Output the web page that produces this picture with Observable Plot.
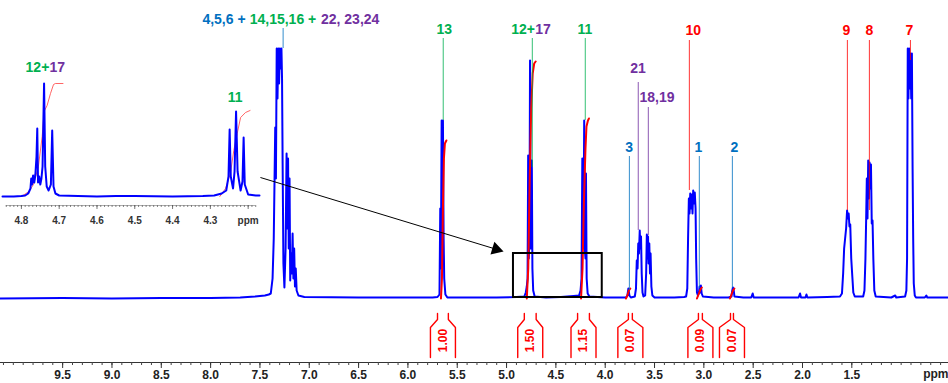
<!DOCTYPE html>
<html><head><meta charset="utf-8">
<script src="https://cdn.jsdelivr.net/npm/d3@7"></script>
<script src="https://cdn.jsdelivr.net/npm/@observablehq/plot@0.6"></script>
<style>
html,body{margin:0;padding:0;background:#fff;}
#wrap{position:relative;width:948px;height:383px;overflow:hidden;background:#fff;}
#main{position:absolute;left:0;top:0;}
#inset{position:absolute;left:0;top:50px;background:#fff;}
svg text{font-family:"Liberation Sans",Arial,sans-serif;}
</style></head>
<body><div id="wrap"><div id="main"></div><div id="inset"></div></div>
<script>
// ---------------- DATA ----------------
// main 1H spectrum: [ppm, intensity]
const spectrum = [
 [10.13,0],[9.5,0.5],[9.0,0],[8.5,0.5],[8.0,0.5],[7.7,1],[7.55,2],[7.45,3],
 [7.41,4],[7.39,5],[7.372,20],[7.36,60],[7.345,171],[7.338,120],[7.33,250],[7.322,200],[7.314,250],[7.306,215],[7.298,250],[7.29,230],[7.282,250],[7.276,220],[7.27,135],[7.262,35],[7.252,11],
 [7.24,50],[7.23,145],[7.222,70],[7.215,140],[7.208,50],[7.2,120],[7.193,18],
 [7.185,45],[7.177,25],[7.169,65],[7.161,20],[7.153,50],[7.145,12],[7.137,30],[7.128,8],[7.11,3],[7.05,1.5],
 [6.5,1],[6.0,1],[5.75,1],
 [5.70,1.5],[5.68,4],[5.672,90],[5.666,30],[5.658,178],[5.652,110],[5.645,178],[5.638,60],[5.632,20],[5.62,4],[5.60,1],
 [5.4,1],[5.1,1],[4.9,1.5],
 [4.82,2],[4.805,6],[4.795,12],[4.787,20],[4.781,143],[4.775,40],[4.768,60],[4.762,238],[4.756,50],[4.75,60],[4.744,138],[4.738,30],[4.73,8],[4.715,2],
 [4.6,1],[4.45,1.5],[4.32,2.5],
 [4.265,3],[4.25,8],[4.24,20],[4.232,140],[4.226,50],[4.22,60],[4.213,178],[4.207,50],[4.2,40],[4.195,125],[4.188,20],[4.178,5],[4.16,2],
 [4.0,1],[3.85,1],[3.79,1],
 [3.775,3],[3.765,10],[3.755,3],[3.74,1],
 [3.70,2],[3.688,10],[3.68,38],[3.672,30],[3.665,55],[3.658,45],[3.65,68],[3.644,50],[3.637,62],[3.63,25],[3.622,6],[3.612,2],
 [3.595,3],[3.585,25],[3.578,64],[3.572,40],[3.566,62],[3.56,35],[3.553,55],[3.546,25],[3.54,45],[3.532,12],[3.522,3],[3.5,1],
 [3.3,1],[3.2,1.5],
 [3.18,2],[3.168,10],[3.16,60],[3.152,100],[3.145,85],[3.138,105],[3.13,90],[3.122,104],[3.115,85],[3.108,108],[3.1,95],[3.092,106],[3.084,90],[3.078,40],[3.07,6],
 [3.06,3],[3.05,6],[3.043,12],[3.037,6],[3.03,13],[3.022,5],[3.01,2],
 [2.9,1],[2.75,1],
 [2.72,2],[2.712,8],[2.705,11],[2.698,9],[2.69,2],
 [2.6,1],[2.52,1],[2.505,5],[2.495,1],[2.3,1],[2.04,1],[2.025,5],[2.015,1],[1.97,1],[1.96,4],[1.95,1],[1.75,1.5],
 [1.62,2],[1.60,5],[1.588,25],[1.578,50],[1.568,60],[1.558,70],[1.548,88],[1.54,80],[1.532,85],[1.524,72],[1.516,74],[1.506,40],[1.495,22],[1.485,6],[1.47,2],
 [1.42,2],
 [1.385,2],[1.372,8],[1.362,40],[1.355,78],[1.348,120],[1.341,80],[1.334,138],[1.327,100],[1.32,136],[1.313,110],[1.306,134],[1.298,75],[1.29,78],[1.282,40],[1.272,8],[1.258,2],
 [1.1,1],[1.06,3],[1.05,1],
 [0.96,2],[0.947,8],[0.94,40],[0.933,250],[0.926,200],[0.919,250],[0.912,210],[0.905,245],[0.898,200],[0.891,245],[0.884,130],[0.878,60],[0.872,15],[0.862,3],[0.85,1],
 [0.76,1],[0.745,3],[0.735,1],[0.52,1]
];

// integral traces drawn over the peaks: [ppm, value]
const integralTraces = [
 [[5.665,0],[5.655,20],[5.645,90],[5.635,140],[5.625,155],[5.61,158]],
 [[4.795,0],[4.78,30],[4.765,120],[4.75,190],[4.735,225],[4.72,235],[4.705,237]],
 [[4.245,0],[4.23,30],[4.215,100],[4.2,150],[4.19,172],[4.175,178],[4.165,180]],
 [[3.79,0],[3.775,3],[3.76,8],[3.745,10]],
 [[3.07,0],[3.05,5],[3.035,9],[3.02,11]],
 [[2.735,0],[2.72,4],[2.705,8],[2.69,10]]
];

// integration regions (ppm limits) and values
const integralLabels = ["1.00","1.50","1.15","0.07","0.09","0.07"];
const integralFrom   = [5.70, 4.82, 4.28, 3.765, 3.055, 2.73];
const integralTo     = [5.59, 4.70, 4.16, 3.725, 3.015, 2.70];

// assignment groups -> colours
const groupKeys   = ["A","B","C","D"];
const groupColors = ["#0070C0","#00B050","#7030A0","#FF0000"];

// peak assignment labels: text parts with group, label position (ppm, height)
const labels = [
 {parts:[["4,5,6 + ","A"],["14,15,16 + ","B"],["22, 23,24","C"]], ppm:7.18, v:279},
 {parts:[["13","B"]], ppm:5.63, v:268.5},
 {parts:[["12+","B"],["17","C"]], ppm:4.75, v:268.5},
 {parts:[["11","B"]], ppm:4.20, v:268.5},
 {parts:[["21","C"]], ppm:3.665, v:230},
 {parts:[["18,19","C"]], ppm:3.47, v:201},
 {parts:[["3","A"]], ppm:3.755, v:151},
 {parts:[["10","D"]], ppm:3.105, v:268},
 {parts:[["1","A"]], ppm:3.055, v:151},
 {parts:[["2","A"]], ppm:2.69, v:151},
 {parts:[["9","D"]], ppm:1.555, v:268},
 {parts:[["8","D"]], ppm:1.32, v:268},
 {parts:[["7","D"]], ppm:0.915, v:268}
];

// leader lines: ppm, top, bottom, group
const leaderLines = [
 {ppm:7.265, top:270, bottom:250, g:"A"},
 {ppm:5.642, top:260, bottom:178, g:"B"},
 {ppm:4.739, top:260, bottom:131, g:"B"},
 {ppm:4.202, top:260, bottom:178, g:"B"},
 {ppm:3.665, top:216, bottom:68, g:"C"},
 {ppm:3.563, top:191, bottom:63, g:"C"},
 {ppm:3.755, top:142, bottom:8, g:"A"},
 {ppm:3.147, top:258, bottom:108, g:"D"},
 {ppm:3.046, top:142, bottom:10, g:"A"},
 {ppm:2.711, top:142, bottom:10, g:"A"},
 {ppm:1.545, top:258, bottom:88, g:"D"},
 {ppm:1.322, top:258, bottom:88, g:"D"},
 {ppm:0.906, top:258, bottom:238, g:"D"}
];

// axis tick labels
const tickLabels = [9.5,9.0,8.5,8.0,7.5,7.0,6.5,6.0,5.5,5.0,4.5,4.0,3.5,3.0,2.5,2.0,1.5];

// zoom box and arrow (ppm, height)
const zoomBox = {ppm1:4.93, ppm2:4.03, v1:1, v2:45};
const zoomArrow = {ppm1:7.495, v1:121, ppm2:5.03, v2:47};

// inset: expanded 4.85 - 4.17 ppm
const insetSpectrum = [
 [4.85,0],[4.82,0],[4.80,0.5],[4.79,1],[4.782,3],[4.776,8],[4.774,18],[4.772,12],[4.769,21],[4.766,14],[4.763,22],[4.760,40],[4.758,68],[4.756,14],[4.753,20],[4.75,12],[4.747,18],[4.744,30],[4.74,113],[4.737,30],[4.733,10],[4.728,6],[4.722,12],[4.7185,66],[4.715,10],[4.71,3],[4.70,1],
 [4.6,0],[4.55,0.5],[4.5,0.5],[4.4,0],[4.32,0.5],[4.29,1],[4.27,3],[4.258,6],[4.252,20],[4.249,67],[4.246,20],[4.24,8],[4.236,25],[4.232,85],[4.228,25],[4.22,6],[4.215,15],[4.212,59],[4.209,12],[4.2,2],[4.18,1],[4.17,1]
];
const insetIntegrals = [
 [[4.80,0],[4.78,5],[4.768,12],[4.755,30],[4.745,60],[4.74,85],[4.732,91],[4.723,103],[4.715,112],[4.71,113],[4.69,113]],
 [[4.275,0],[4.26,8],[4.247,23],[4.238,46],[4.229,63],[4.22,79],[4.207,84],[4.195,86]]
];
const insetTickLabels = [4.8,4.7,4.6,4.5,4.4,4.3];
const insetLabels = [
 {parts:[["12+","B"],["17","C"]], ppm:4.736, v:129},
 {parts:[["11","B"]], ppm:4.233, v:99}
];

// ---------------- DRAW ----------------
const W = 948, H = 383;
const X_DOMAIN = [10.13, 0.52];
const pxPerPpm = W / (X_DOMAIN[0] - X_DOMAIN[1]);
const LABEL_FONT = "bold 14px 'Open Sans'";
const ctx = document.createElement("canvas").getContext("2d");
ctx.font = LABEL_FONT;

function splitLabels(list, ppx) {
  const out = [];
  list.forEach(l => {
    const widths = l.parts.map(p => ctx.measureText(p[0]).width);
    const total = d3.sum(widths);
    let off = -total / 2;
    l.parts.forEach((p, i) => {
      out.push({t: p[0], g: p[1], x: l.ppm - off / ppx, v: l.v});
      off += widths[i];
    });
  });
  return out;
}

const minorTicks = d3.range(101, 5, -1).map(d => d / 10);
const hw = 12.5 / pxPerPpm;
const brackets = [];
integralLabels.forEach((lab, i) => {
  const c = (integralFrom[i] + integralTo[i]) / 2;
  [[integralFrom[i], c + hw], [integralTo[i], c - hw]].forEach(([lim, edge], s) => {
    const id = i * 2 + s;
    brackets.push({id, x: lim, v: -15}, {id, x: lim, v: -21}, {id, x: edge, v: -29}, {id, x: edge, v: -59});
  });
});
const integralText = integralLabels.map((lab, i) => ({t: lab, x: (integralFrom[i] + integralTo[i]) / 2, v: -42}));
const traces = integralTraces.flatMap((tr, i) => tr.map(p => ({id: i, x: p[0], v: p[1]})));

// arrow head
const sx = (zoomArrow.ppm1 - zoomArrow.ppm2) * pxPerPpm, sy = (zoomArrow.v1 - zoomArrow.v2);
const len = Math.hypot(sx, sy), ux = sx / len, uy = sy / len;
const headBack = 7.8;
const head = {x: zoomArrow.ppm2 + headBack * ux / pxPerPpm, v: zoomArrow.v2 + headBack * uy,
              rot: 90 + Math.atan2(sy, sx) * 180 / Math.PI};

const main = Plot.plot({
  width: W, height: H,
  marginTop: 0, marginBottom: 21, marginLeft: 0, marginRight: 0,
  x: {domain: X_DOMAIN, axis: null},
  y: {domain: [-64, 298], axis: null},
  color: {domain: groupKeys, range: groupColors},
  style: {background: "transparent", overflow: "visible"},
  marks: [
    Plot.ruleY([-64], {stroke: "#333", strokeWidth: 1}),
    Plot.axisX(minorTicks, {anchor: "bottom", tickSize: 3, tickFormat: () => "", label: null, stroke: "#444"}),
    Plot.axisX(tickLabels, {anchor: "bottom", tickSize: 6, tickPadding: 2, tickFormat: d => d.toFixed(1), label: null,
      fontSize: 12, fontWeight: "bold", stroke: "#333", fill: "#222"}),
    Plot.text(["ppm"], {frameAnchor: "bottom-right", dy: 15, dx: 0, fontSize: 12, fontWeight: "bold", fill: "#222"}),
    Plot.line(spectrum, {x: d => d[0], y: d => d[1], stroke: "#0000FF", strokeWidth: 2, strokeLinejoin: "round"}),
    Plot.line(traces, {x: "x", y: "v", z: "id", stroke: "#FF0000", strokeWidth: 2}),
    Plot.ruleX(leaderLines, {x: "ppm", y1: "top", y2: "bottom", stroke: "g", strokeWidth: 1, strokeOpacity: 0.8}),
    Plot.text(splitLabels(labels, pxPerPpm), {x: "x", y: "v", text: "t", fill: "g", textAnchor: "start",
      fontSize: 14, fontWeight: "bold", fontFamily: "Open Sans"}),
    Plot.line(brackets, {x: "x", y: "v", z: "id", stroke: "#FF0000", strokeWidth: 1.4}),
    Plot.text(integralText, {x: "x", y: "v", text: "t", rotate: -90, fill: "#FF0000", fontSize: 12, fontWeight: "bold"}),
    Plot.rect([zoomBox], {x1: "ppm1", x2: "ppm2", y1: "v1", y2: "v2", fill: "none", stroke: "black", strokeWidth: 2}),
    Plot.link([zoomArrow], {x1: "ppm1", y1: "v1", x2: () => head.x, y2: () => head.v, stroke: "black", strokeWidth: 1}),
    Plot.dot([head], {x: "x", y: "v", symbol: "triangle", r: 5, fill: "black", rotate: "rot"})
  ]
});
document.getElementById("main").appendChild(main);

// inset
const IW = 260, IH = 180;
const I_DOMAIN = [4.85, 4.17];
const ipx = (IW - 3) / (I_DOMAIN[0] - I_DOMAIN[1]);
const insetMinor = d3.range(484, 417, -1).map(d => d / 100);
const insetMajor = [...insetTickLabels, 4.2];
const inset = Plot.plot({
  width: IW, height: IH,
  marginTop: 0, marginBottom: 0, marginLeft: 2, marginRight: 1,
  x: {domain: I_DOMAIN, axis: null},
  y: {domain: [-34, 146], axis: null},
  color: {domain: groupKeys, range: groupColors},
  style: {background: "white", overflow: "visible"},
  marks: [
    Plot.ruleY([-9], {x1: 4.84, x2: 4.18, stroke: "#999", strokeWidth: 0.8}),
    Plot.ruleX(insetMinor, {y1: -9, y2: -11, stroke: "#666", strokeWidth: 0.8}),
    Plot.ruleX(insetMajor, {y1: -9, y2: -13, stroke: "#555", strokeWidth: 0.8}),
    Plot.text(insetTickLabels, {x: d => d, y: -24, text: d => d.toFixed(1), fontSize: 10, fontWeight: "bold", fill: "#333"}),
    Plot.text(["ppm"], {x: 4.2, y: -24, text: d => d, fontSize: 10, fontWeight: "bold", fill: "#333"}),
    Plot.line(insetIntegrals.flatMap((tr, i) => tr.map(p => ({id: i, x: p[0], v: p[1]}))),
      {x: "x", y: "v", z: "id", stroke: "#FF4040", strokeWidth: 1, strokeOpacity: 0.8}),
    Plot.line(insetSpectrum, {x: d => d[0], y: d => d[1], stroke: "#0000FF", strokeWidth: 2, strokeLinejoin: "round"}),
    Plot.text(splitLabels(insetLabels, ipx), {x: "x", y: "v", text: "t", fill: "g", textAnchor: "start",
      fontSize: 14, fontWeight: "bold", fontFamily: "Open Sans"})
  ]
});
document.getElementById("inset").appendChild(inset);
</script>
</body></html>
